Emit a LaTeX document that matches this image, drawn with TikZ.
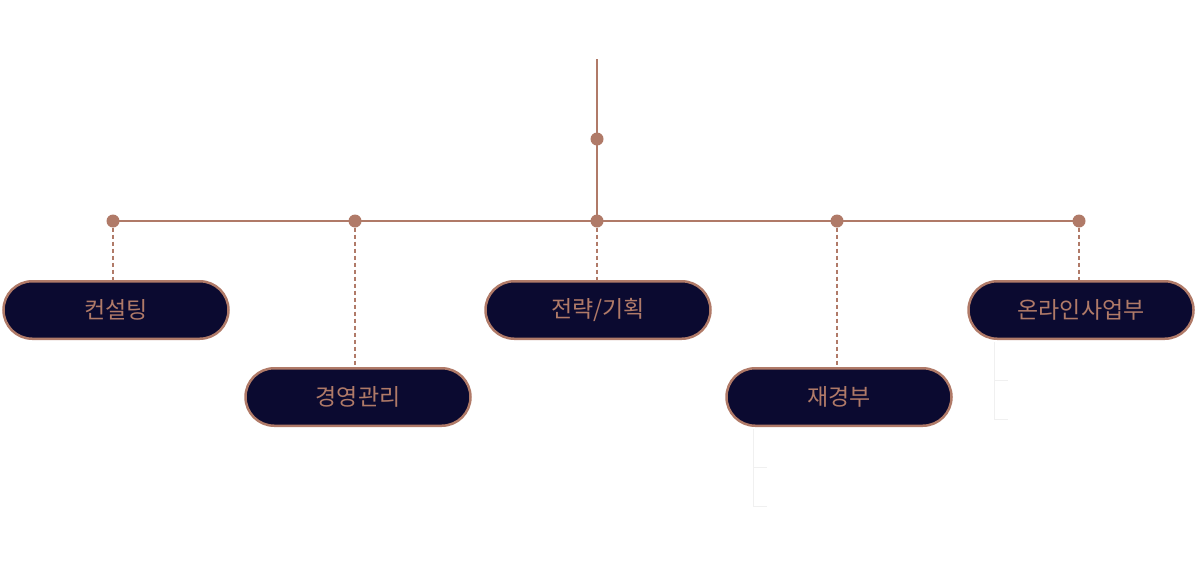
\documentclass[tikz,border=0pt]{standalone}
\usepackage{fontspec}
\newfontfamily\kr{Noto Sans CJK KR}
\usetikzlibrary{shapes.misc}
\definecolor{bronze}{HTML}{B07A68}
\definecolor{navy}{HTML}{0B0A30}
\definecolor{faint}{HTML}{F0F0F0}
\begin{document}
\begin{tikzpicture}[x=1pt,y=-1pt,
		dept/.style={rounded rectangle,draw=bronze,line width=2.5pt,fill=navy,minimum width=225pt,minimum height=57.5pt,inner sep=0pt,text=bronze,font=\kr\fontsize{23}{27}\selectfont},
		dot/.style={circle,fill=bronze,inner sep=0pt,minimum size=13pt},
		trunk/.style={draw=bronze,line width=2pt},
		link/.style={draw=bronze,line width=1.3pt,dash pattern=on 4pt off 3pt},
		bracket/.style={draw=faint,line width=1pt}]
		\useasboundingbox (0,0) rectangle (1196,568);

		% Trunk and branch line
		\coordinate (start) at (597,59);
		\node[dot] (top) at (597,139) {};
		\node[dot] (d1) at (113,221) {};
		\node[dot] (d2) at (355,221) {};
		\node[dot] (d3) at (597,221) {};
		\node[dot] (d4) at (837,221) {};
		\node[dot] (d5) at (1079,221) {};
		\draw[trunk] (start) -- (top.center) -- (d3.center);
		\draw[trunk] (d1.center) -- (d5.center);

		% Departments
		\node[dept] (b1) at (116,310) {컨설팅};
		\node[dept] (b2) at (358,397) {경영관리};
		\node[dept] (b3) at (598,310) {전략/기획};
		\node[dept] (b4) at (839,397) {재경부};
		\node[dept] (b5) at (1081,310) {온라인사업부};

		\foreach \i in {1,...,5}
		\draw[link] (d\i) -- (d\i |- b\i.north);

		% faint brackets below
		\draw[bracket] (b4.south) ++(-86,2) -- ++(0,77) -- ++(14,0);
		\draw[bracket] (b4.south) ++(-86,40) -- ++(14,0);
		\draw[bracket] (b5.south) ++(-87,2) -- ++(0,77) -- ++(14,0);
		\draw[bracket] (b5.south) ++(-87,40) -- ++(14,0);
	\end{tikzpicture}
\end{document}
